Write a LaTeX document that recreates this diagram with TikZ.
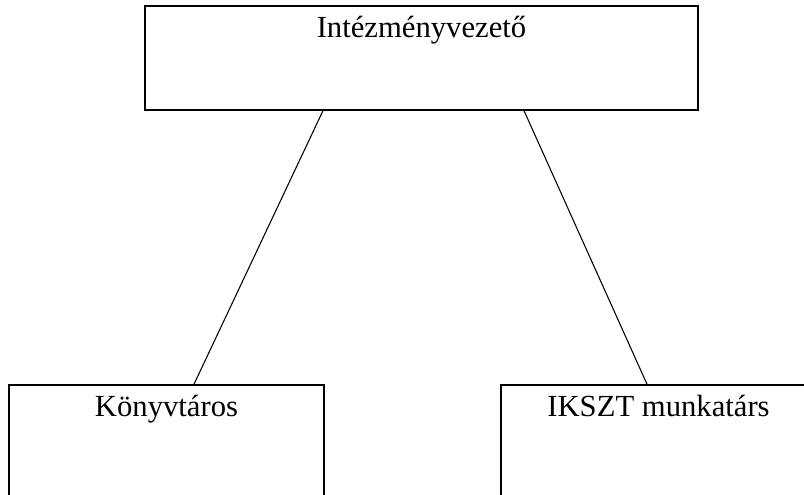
\documentclass[tikz,border=0pt]{standalone}
\usepackage{fontspec}
\setmainfont{Liberation Serif}
\usetikzlibrary{positioning}

\begin{document}
\begin{tikzpicture}[x=0.75pt,y=-0.75pt,
  box/.style={draw,line width=1.1pt,inner sep=0pt,text height=24pt,
    font=\fontsize{23}{28}\selectfont},
  link/.style={line width=0.8pt}]

\clip (0,0) rectangle (804,495);

\node[box,minimum width=414.75pt,minimum height=78pt,text depth=54pt]
   (lead)  at (421.5,58)   {Intézményvezető};
 \node[box,minimum width=236.25pt,minimum height=131.25pt,text depth=107.25pt]
   (lib)   at (166.5,472.5) {Könyvtáros};
 \node[box,minimum width=236.25pt,minimum height=131.25pt,text depth=107.25pt]
   (staff) at (658.5,472.5) {IKSZT munkatárs};

\draw[link] ([xshift=-73.9pt]lead.south) -- ([xshift=20.6pt]lib.north);
\draw[link] ([xshift=76.9pt]lead.south)  -- ([xshift=-8.6pt]staff.north);

\end{tikzpicture}
\end{document}
